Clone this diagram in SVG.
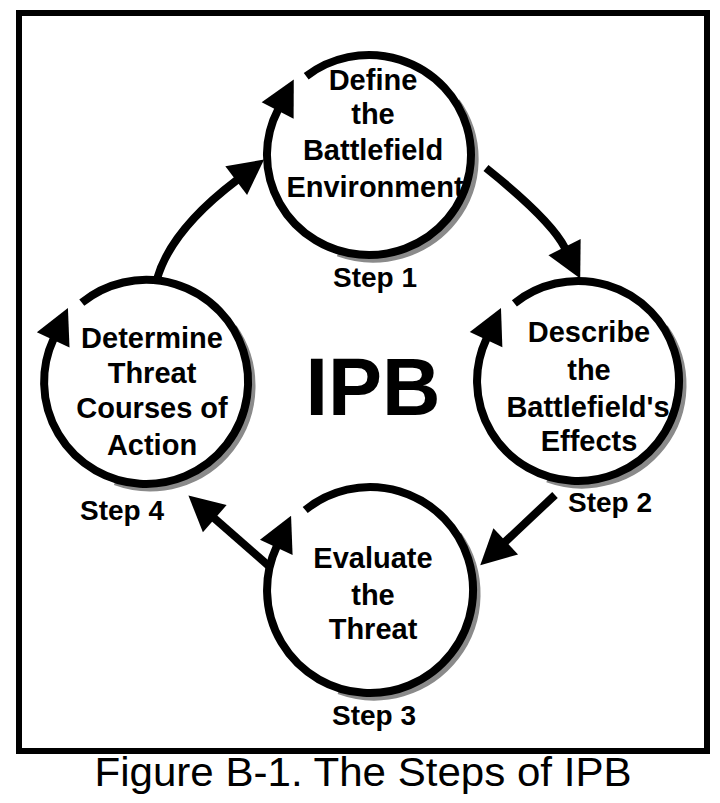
<svg xmlns="http://www.w3.org/2000/svg" width="720" height="803" viewBox="0 0 720 803">
<style>
.lbl{font-family:"Liberation Sans",Arial,sans-serif;font-weight:bold;font-size:29px;text-anchor:middle;fill:#000}
.step{font-family:"Liberation Sans",Arial,sans-serif;font-weight:bold;font-size:28px;text-anchor:middle;fill:#000}
.ring{fill:none;stroke:#000;stroke-width:8;marker-end:url(#ah)}
.shadow{fill:none;stroke:#8a8a8a;stroke-width:7}
.conn{fill:none;stroke:#000;stroke-width:8;marker-end:url(#ah)}
</style>
<defs>
<marker id="ah" markerUnits="userSpaceOnUse" markerWidth="40" markerHeight="40" refX="1" refY="18" orient="auto" overflow="visible">
<path d="M0,0 L35,18 L0,36 Z" fill="#000"/>
</marker>
</defs>
<rect x="0" y="0" width="720" height="803" fill="#fff"/>
<rect id="frame" x="19" y="13" width="688" height="738" fill="none" stroke="#000" stroke-width="6"/>
<g id="connectors">
<path class="conn" d="M157,279 Q171,230 237,180"/>
<path class="conn" d="M486,168 Q551,220 565,248"/>
<path class="conn" d="M555,495 L505,542"/>
<path class="conn" d="M270,567 L214,518"/>
</g>
<g id="step1">
<path class="shadow" d="M456.6,101.6 A102,100 0 0 1 338.1,253"/>
<path class="ring" d="M306.2,76.2 A102,100 0 1 1 278.1,109.6"/>
<text class="lbl" x="373" y="90">Define</text>
<text class="lbl" x="373" y="124">the</text>
<text class="lbl" x="373" y="160">Battlefield</text>
<text class="lbl" x="375" y="197">Environment</text>
<text class="step" x="375" y="287">Step 1</text>
</g>
<g id="step2">
<path class="shadow" d="M664.7,327.6 A101,100 0 0 1 547.5,479"/>
<path class="ring" d="M514.4,303.3 A101,100 0 1 1 486.5,338.7"/>
<text class="lbl" x="589" y="342">Describe</text>
<text class="lbl" x="589" y="380">the</text>
<text class="lbl" x="588" y="417">Battlefield's</text>
<text class="lbl" x="589" y="451">Effects</text>
<text class="step" x="610" y="512">Step 2</text>
</g>
<g id="step3">
<path class="shadow" d="M458.4,534.9 A103,103 0 0 1 338.8,690.8"/>
<path class="ring" d="M305.2,510 A103,103 0 1 1 276.7,546.5"/>
<text class="lbl" x="373" y="568">Evaluate</text>
<text class="lbl" x="373" y="605">the</text>
<text class="lbl" x="373" y="639">Threat</text>
<text class="step" x="374" y="725">Step 3</text>
</g>
<g id="step4">
<path class="shadow" d="M233.6,327.5 A102,102 0 0 1 115.1,481.8"/>
<path class="ring" d="M81.8,302.7 A102,102 0 1 1 53.6,338.9"/>
<text class="lbl" x="152" y="348">Determine</text>
<text class="lbl" x="152" y="383">Threat</text>
<text class="lbl" x="152" y="418">Courses of</text>
<text class="lbl" x="152" y="455">Action</text>
<text class="step" x="122" y="520">Step 4</text>
</g>
<g id="center">
<text x="373" y="415" font-family="'Liberation Sans',Arial,sans-serif" font-weight="bold" font-size="81" text-anchor="middle">IPB</text>
</g>
<text id="caption" x="363" y="786" font-family="'Liberation Sans',Arial,sans-serif" font-size="40" text-anchor="middle" textLength="537" lengthAdjust="spacingAndGlyphs">Figure B-1. The Steps of IPB</text>
</svg>
